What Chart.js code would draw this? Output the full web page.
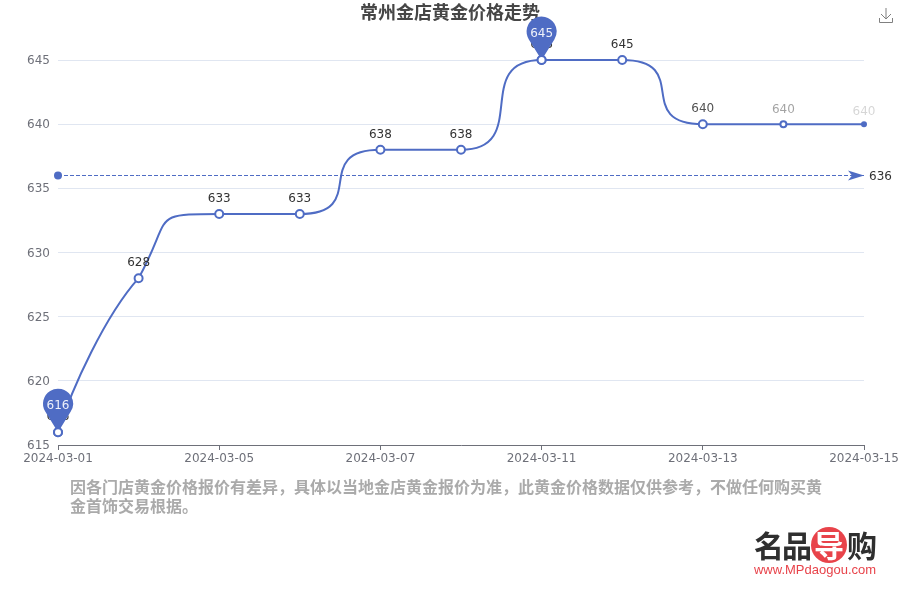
<!DOCTYPE html>
<html>
<head>
<meta charset="utf-8">
<style>
html, body { margin: 0; padding: 0; background: #fff; }
#wrap { width: 900px; height: 600px; }
</style>
<script src="https://cdn.jsdelivr.net/npm/chart.js@4"></script>
</head>
<body>
<div id="wrap"><canvas id="priceChart" width="900" height="600"></canvas></div>
<script>
// dati
const dates = ['2024-03-01', '2024-03-03', '2024-03-05', '2024-03-06', '2024-03-07', '2024-03-08',
    '2024-03-11', '2024-03-12', '2024-03-13', '2024-03-14', '2024-03-15'];
const prices = [616, 628, 633, 633, 638, 638, 645, 645, 640, 640, 640];
const averagePrice = 636;
const averageLine = dates.map(() => averagePrice);
const yTicks = [615, 620, 625, 630, 635, 640, 645];

const titleText = '常州金店黄金价格走势';
const noteLines = ['因各门店黄金价格报价有差异，具体以当地金店黄金报价为准，此黄金价格数据仅供参考，不做任何购买黄', '金首饰交易根据。'];

const BLUE = '#4f6cc4';
const FONT = '"DejaVu Sans", "Noto Sans CJK SC", sans-serif';
const CJK = '"Noto Sans CJK SC", sans-serif';

// l'ultima parte della serie e' in dissolvenza nell'originale
const pointSizes = [4, 4, 4, 4, 4, 4, 4, 4, 4, 3, 2];
const pointFills = ['#fff', '#fff', '#fff', '#fff', '#fff', '#fff', '#fff', '#fff', '#fff', '#fff', BLUE];
const labelAlpha = [1, 1, 1, 1, 1, 1, 1, 1, 0.85, 0.45, 0.2];
const labelGap = [15.5, 15, 15.5, 15.5, 15, 15, 15.5, 15.5, 15.5, 14.5, 12.5];

// curva morbida: tangente piatta sui tratti piani, come nell'originale
const smoothCurve = {
    id: 'smoothCurve',
    beforeDatasetDraw(chart, args) {
        if (args.index !== 0) return;
        const meta = args.meta;
        meta.dataset.updateControlPoints(chart.chartArea);
        const pts = meta.data;
        pts.forEach((p, i) => {
            const prev = pts[i - 1], next = pts[i + 1];
            if (!prev) {
                p.cp1x = p.x;
                p.cp1y = p.y;
                p.cp2x = p.x + (next.x - p.x) * 0.175;
                p.cp2y = p.y + (next.y - p.y) * 0.29;
                return;
            }
            if (!next) {
                p.cp1x = p.cp2x = p.x;
                p.cp1y = p.cp2y = p.y;
                return;
            }
            if ((p.y - prev.y) * (next.y - p.y) <= 0) {
                p.cp1x = p.x - (p.x - prev.x) * 0.88;
                p.cp2x = p.x + (next.x - p.x) * 0.88;
                p.cp1y = p.cp2y = p.y;
                return;
            }
            p.cp1x = p.x - (p.x - prev.x) * 0.41;
            p.cp1y = p.y - (p.y - prev.y) * 0.24;
            p.cp2x = p.x + (next.x - p.x) * 0.43;
            p.cp2y = p.y + (next.y - p.y) * 0.98;
        });
    }
};

function drawPin(ctx, x, y, text) {
    const r = 15, h = 28.5;
    const a = Math.acos(r / h);
    ctx.fillStyle = BLUE;
    ctx.beginPath();
    ctx.arc(x, y - h, r, Math.PI / 2 + a, Math.PI / 2 - a);
    ctx.lineTo(x, y);
    ctx.closePath();
    ctx.fill();
    ctx.fillStyle = '#eef1fa';
    ctx.font = '12px ' + FONT;
    ctx.textAlign = 'center';
    ctx.textBaseline = 'middle';
    ctx.fillText(text, x, y - h + 2);
}

const overlays = {
    id: 'overlays',
    afterDatasetsDraw(chart) {
        const ctx = chart.ctx;
        const pts = chart.getDatasetMeta(0).data;
        const avgPts = chart.getDatasetMeta(1).data;
        ctx.save();

        // titolo
        ctx.fillStyle = '#464646';
        ctx.font = 'bold 18px ' + FONT;
        ctx.textAlign = 'center';
        ctx.textBaseline = 'middle';
        ctx.fillText(titleText, 450, 14);

        // etichette dei valori
        ctx.font = '12px ' + FONT;
        pts.forEach((p, i) => {
            ctx.fillStyle = 'rgba(51,51,51,' + labelAlpha[i] + ')';
            ctx.fillText(prices[i], p.x, p.y - labelGap[i]);
        });

        // linea media: pallino, freccia, valore
        const first = avgPts[0], last = avgPts[avgPts.length - 1];
        ctx.fillStyle = BLUE;
        ctx.beginPath();
        ctx.arc(first.x, first.y, 4, 0, Math.PI * 2);
        ctx.fill();
        ctx.beginPath();
        ctx.moveTo(last.x, last.y);
        ctx.lineTo(last.x - 16, last.y - 5);
        ctx.lineTo(last.x - 12, last.y);
        ctx.lineTo(last.x - 16, last.y + 5);
        ctx.closePath();
        ctx.fill();
        ctx.fillStyle = '#333';
        ctx.textAlign = 'left';
        ctx.fillText(averagePrice, last.x + 5, last.y + 1);

        // segnaposto su massimo e minimo, il cerchio resta sopra
        const maxI = prices.indexOf(Math.max(...prices));
        const minI = prices.indexOf(Math.min(...prices));
        drawPin(ctx, pts[maxI].x, pts[maxI].y, prices[maxI]);
        drawPin(ctx, pts[minI].x, pts[minI].y, prices[minI]);
        pts[maxI].draw(ctx, chart.chartArea);
        pts[minI].draw(ctx, chart.chartArea);

        // nota in basso
        ctx.fillStyle = '#aaa';
        ctx.font = 'bold 16px ' + CJK;
        ctx.textAlign = 'left';
        ctx.textBaseline = 'middle';
        noteLines.forEach((t, i) => ctx.fillText(t, 70, 487 + i * 19));

        // icona download
        ctx.strokeStyle = '#808080';
        ctx.lineWidth = 1;
        ctx.beginPath();
        ctx.moveTo(886, 8); ctx.lineTo(886, 19);
        ctx.moveTo(881, 14); ctx.lineTo(886, 19); ctx.lineTo(891, 14);
        ctx.moveTo(879.5, 18); ctx.lineTo(879.5, 22.5); ctx.lineTo(892.5, 22.5); ctx.lineTo(892.5, 18);
        ctx.stroke();

        // logo
        ctx.fillStyle = '#e8434a';
        ctx.beginPath();
        ctx.arc(829, 545, 18, 0, Math.PI * 2);
        ctx.fill();
        ctx.font = 'bold 30px ' + CJK;
        ctx.fillStyle = '#fff';
        ctx.textAlign = 'center';
        ctx.fillText('导', 829, 546);
        ctx.fillStyle = '#2f2f2f';
        ctx.fillText('名', 769, 546);
        ctx.fillText('品', 797, 546);
        ctx.fillText('购', 862, 546);
        ctx.fillStyle = '#e8434a';
        ctx.font = '13px "Liberation Sans", sans-serif';
        ctx.fillText('www.MPdaogou.com', 815, 570);
        ctx.restore();
    }
};

const priceChart = new Chart(document.getElementById('priceChart'), {
    type: 'line',
    data: {
        labels: dates,
        datasets: [{
            data: prices,
            borderColor: BLUE,
            borderWidth: 2,
            tension: 0.5,
            capBezierPoints: false,
            clip: false,
            pointRadius: pointSizes,
            pointBorderWidth: 2,
            pointBorderColor: BLUE,
            pointBackgroundColor: pointFills,
            order: 1
        }, {
            data: averageLine,
            borderColor: BLUE,
            borderWidth: 1,
            borderDash: [4, 2],
            pointRadius: 0,
            clip: false,
            order: 2
        }]
    },
    options: {
        responsive: false,
        animation: false,
        layout: { padding: { top: 60, right: 36, left: 0, bottom: 0 } },
        plugins: {
            legend: { display: false },
            tooltip: { enabled: false },
            title: { display: false }
        },
        scales: {
            x: {
                grid: { drawOnChartArea: false, drawTicks: true, tickLength: 5, tickColor: '#6e7079' },
                border: { color: '#6e7079' },
                ticks: { color: '#6e7079', font: { size: 12, family: FONT }, autoSkip: true, maxTicksLimit: 6, maxRotation: 0, padding: 2 },
                afterFit(scale) {
                    scale.height = 155;
                    scale.paddingLeft = 0;
                    scale.paddingRight = 0;
                }
            },
            y: {
                min: 615,
                max: 645,
                afterBuildTicks(scale) { scale.ticks = yTicks.map(v => ({ value: v })); },
                grid: { color: '#e0e6f1', drawTicks: false },
                border: { display: false },
                ticks: { color: '#6e7079', font: { size: 12, family: FONT }, padding: 8, labelOffset: 1 },
                afterFit(scale) { scale.width = 58; }
            }
        }
    },
    plugins: [smoothCurve, overlays]
});
</script>
</body>
</html>
